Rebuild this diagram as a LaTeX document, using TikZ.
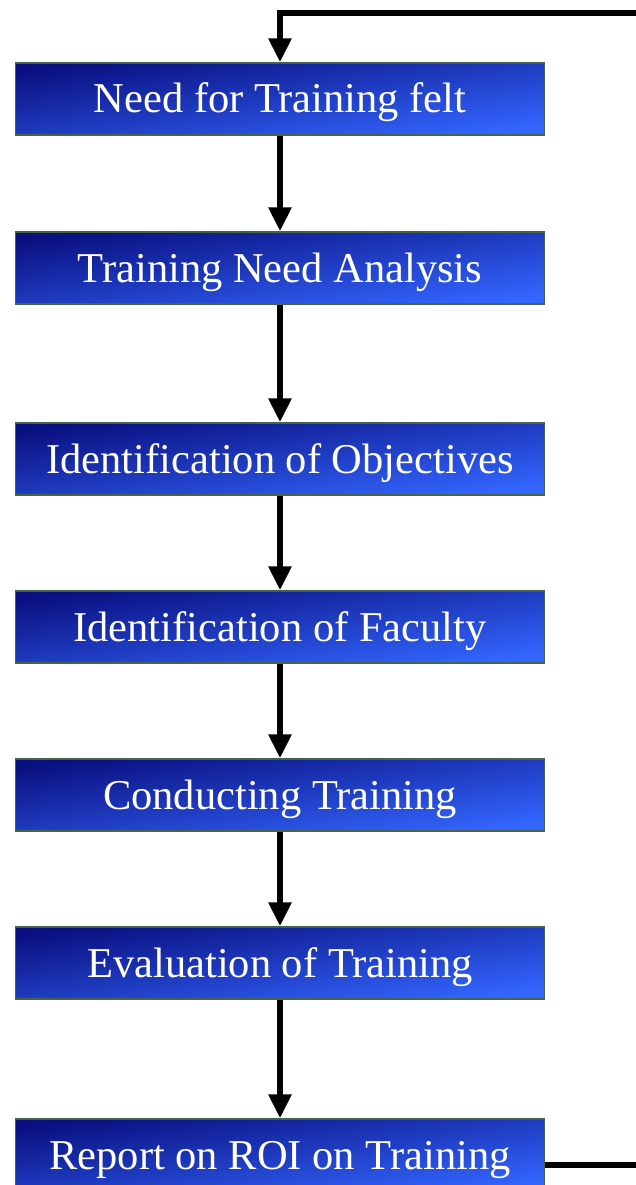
\documentclass[tikz,border=0pt]{standalone}
\usepackage{fontspec}
\setmainfont{Liberation Serif}
\usetikzlibrary{positioning,arrows.meta}
\definecolor{boxdark}{RGB}{10,16,128}
\definecolor{boxlight}{RGB}{51,102,255}
\definecolor{boxedge}{RGB}{70,100,70}
\tikzset{
  stage/.style={draw=boxedge,line width=1.4pt,minimum width=529pt,minimum height=72pt,
    inner sep=0pt,top color=boxdark,bottom color=boxlight,shading angle=8,
    text=white,text height=36pt,text depth=8pt,font=\fontsize{42.5}{50}\selectfont},
  flow/.style={line width=6pt,-{Triangle[length=24pt,width=22pt]}},
  link/.style={line width=6pt}
}
\begin{document}
\begin{tikzpicture}[x=1pt,y=1pt]
      \useasboundingbox (0,0) rectangle (635,-1185);
      \node [stage] (1) at (280,-99) {Need for Training felt};
      \node [stage,below=95.6pt of 1] (2) {Training Need Analysis};
      \node [stage,below=117.6pt of 2] (3) {Identification of Objectives};
      \node [stage,below=94.6pt of 3] (4) {Identification of Faculty};
      \node [stage,below=94.6pt of 4] (5) {Conducting Training};
      \node [stage,below=94.6pt of 5] (6) {Evaluation of Training};
      \node [stage,below=118.6pt of 6] (7) {Report on ROI on Training};
      \coordinate (in) at (640,-13);
      \coordinate (out) at (640,-1165);

      \draw[flow] (in) -| (1);
      \draw[flow] (1) -- (2);
      \draw[flow] (2) -- (3);
      \draw[flow] (3) -- (4);
      \draw[flow] (4) -- (5);
      \draw[flow] (5) -- (6);
      \draw[flow] (6) -- (7);
      \draw[link] (7.east |- out) -- (out);
    \end{tikzpicture}
\end{document}
